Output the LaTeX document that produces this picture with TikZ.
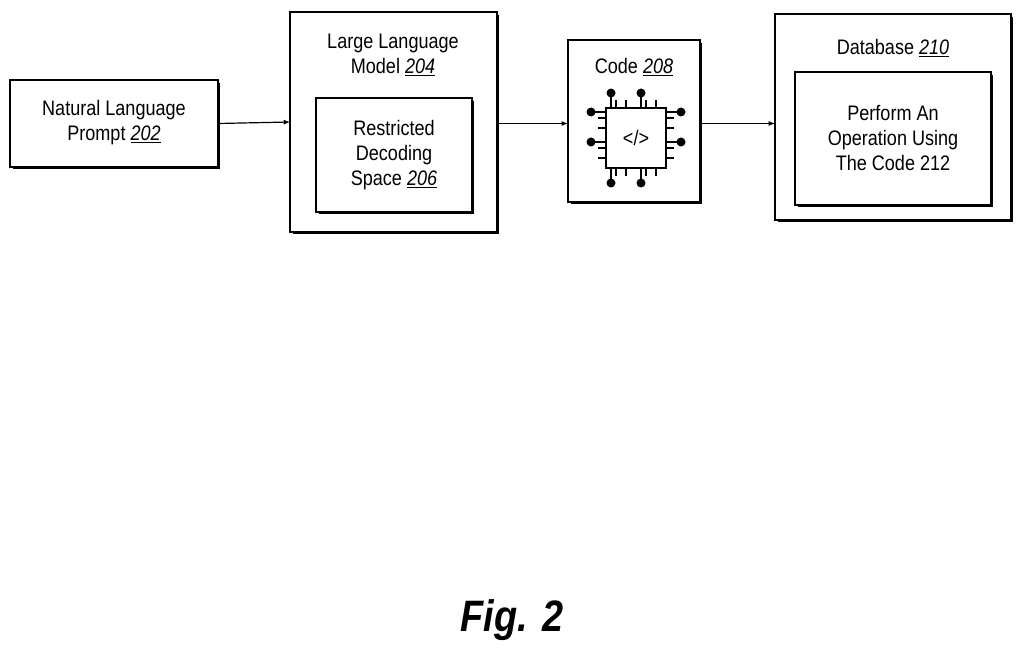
\documentclass[tikz,border=0pt]{standalone}
\usepackage{fontspec}
\setmainfont{Liberation Sans}[FakeStretch=0.86]
\begin{document}
\begin{tikzpicture}[x=1pt,y=-1pt,
  box/.style={draw,line width=1.3pt},
  shad/.style={line width=2.6pt},
  txt/.style={font=\fontsize{21}{25}\selectfont,align=center},
  pin/.style={line width=1.2pt},
  arr/.style={-latex,line width=1.2pt}]
\useasboundingbox (0,0) rectangle (1024,660);
\newcommand\shbox[5]{%
 \draw[box] (#1,#2) rectangle (#3,#4);
 \draw[shad] (#3+1,#2+3) -- (#3+1,#4+1) -- (#1+3,#4+1);
 \coordinate (#5w) at (#1,{(#2+#4)/2}); \coordinate (#5e) at (#3,{(#2+#4)/2});}
\shbox{10}{80}{218}{167}{a}
\node[txt] (ta) at (114,123) {Natural Language\\Prompt \underline{\textit{202}}};
\shbox{290}{12}{497}{232}{b}
\node[txt] (tb) at (393,55) {Large Language\\Model \underline{\textit{204}}};
\shbox{316}{98}{472}{212}{bi}
\node[txt] (tbi) at (394,155) {Restricted\\Decoding\\Space \underline{\textit{206}}};
\shbox{568}{40}{700}{202}{c}
\node[txt] (tc) at (634,67) {Code \underline{\textit{208}}};
\shbox{775}{14}{1011}{220}{d}
\node[txt] (td) at (893,48) {Database \underline{\textit{210}}};
\shbox{795}{72}{991}{205}{di}
\node[txt] (tdi) at (893,138) {Perform An\\Operation Using\\The Code 212};
\draw[arr] (ae) -- (bw);
\draw[arr] (be|-ae) -- (cw|-ae);
\draw[arr] (ce|-ae) -- (dw|-ae);
% chip
\begin{scope}[shift={(636,138)}]
 \foreach \p in {-20,-10,10,20}{
  \draw[pin] (\p,-30) -- (\p,-38); \draw[pin] (\p,30) -- (\p,38);
  \draw[pin] (-30,\p) -- (-38,\p); \draw[pin] (30,\p) -- (38,\p);}
 \foreach \p in {-25,5}{
  \draw[pin] (\p,-30) -- (\p,-44); \fill (\p,-45) circle (4.5);
  \draw[pin] (\p,30) -- (\p,44); \fill (\p,45) circle (4.5);
  \draw[pin] (-30,\p-1) -- (-44,\p-1); \fill (-45,\p-1) circle (4.5);
  \draw[pin] (30,\p-1) -- (44,\p-1); \fill (45,\p-1) circle (4.5);}
 \draw[box,fill=white] (-30,-30) rectangle (30,30);
 \node[txt] (code) at (0,0) {</>};
\end{scope}
\node[font=\fontsize{44}{50}\selectfont\bfseries\itshape] (fig) at (512,620) {Fig. 2};
\end{tikzpicture}
\end{document}
